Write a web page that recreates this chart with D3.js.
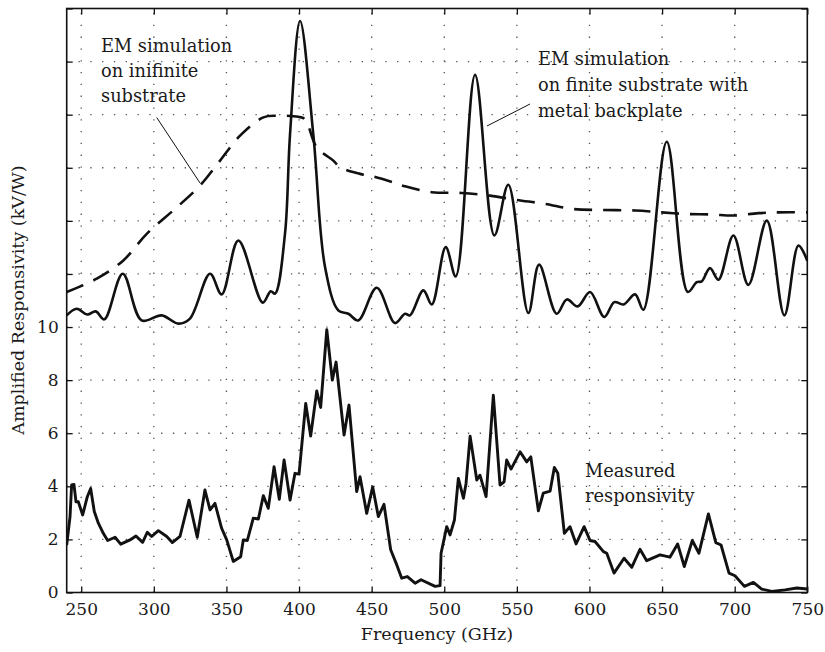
<!DOCTYPE html>
<html>
<head>
<meta charset="utf-8">
<script src="https://cdn.jsdelivr.net/npm/d3@7/dist/d3.min.js"></script>
<style>
  body { margin: 0; background: #fff; }
  text { font-family: "DejaVu Serif", "Liberation Serif", serif; fill: #1a1a1a; }
</style>
</head>
<body>
<svg id="chart" width="825" height="652"></svg>
<script>
// Frequency axis ticks (GHz) and responsivity ticks (kV/W)
const freqTicks = [250, 300, 350, 400, 450, 500, 550, 600, 650, 700, 750];
const respTicks = [0, 2, 4, 6, 8, 10, 12, 14, 16, 18, 20, 22];
const respLabels = [0, 2, 4, 6, 8, 10];

// EM simulation, infinite substrate: [GHz, kV/W] (plotted with offset)
const infiniteSubstrate = [
  [240, 11.32], [260.7, 11.82], [279, 12.51], [295.1, 13.51], [315.8, 14.51],
  [331.8, 15.33], [345.6, 16.27], [359.4, 17.21], [375.4, 17.9], [384.6, 17.96],
  [399.5, 17.92], [404.1, 17.83], [412.2, 16.77], [423.6, 16.27], [428.2, 16.02],
  [442, 15.77], [451.2, 15.67], [464.9, 15.45], [473, 15.3], [491.4, 15.08],
  [512, 15.05], [531.5, 14.95], [549.9, 14.79], [569.4, 14.64], [587.8, 14.45],
  [608.5, 14.41], [631.4, 14.39], [649.8, 14.32], [665.8, 14.26], [684.2, 14.24],
  [699.1, 14.2], [716.3, 14.29], [730.1, 14.32], [750, 14.32]
];

// EM simulation, finite substrate with metal backplate: [GHz, kV/W]
const finiteSubstrate = [
  [240, 10.44], [246.9, 10.69], [254.2, 10.47], [260, 10.59], [265.9, 10.29],
  [278.6, 12.01], [291.6, 10.25], [305.4, 10.44], [316.9, 10.13], [324.9, 10.32],
  [338.7, 12.01], [346.7, 11.23], [358.2, 13.26], [375, 10.92], [380.5, 11.35],
  [383.5, 11.26], [390.3, 13.5], [393.8, 17.27], [400.7, 21.53], [409.8, 17.27],
  [417.9, 12.26], [427, 10.63], [434, 10.5], [440.8, 10.25], [453.5, 11.48],
  [466.1, 10.15], [473, 10.5], [476.4, 10.44], [485.6, 11.38], [491.4, 10.85],
  [501, 13.01], [507.9, 11.91], [521.2, 19.5], [534.5, 13.45], [544.1, 15.36],
  [557.9, 10.53], [565.3, 12.35], [577.4, 10.5], [584.4, 11.04], [591.9, 10.78],
  [600.4, 11.32], [610.2, 10.38], [617.1, 10.94], [623.4, 10.85], [631.4, 11.23],
  [637.1, 10.65], [653.2, 16.98], [667.7, 11.32], [673.9, 11.69], [677.3, 11.72],
  [683, 12.22], [688.8, 11.78], [699.1, 13.45], [709.4, 11.59], [722.1, 14.01],
  [734.2, 10.44], [743.9, 13.07], [750, 12.5]
];

// Measured responsivity: [GHz, kV/W]
const measured = [
  [240, 1.79], [242.3, 2.86], [243.4, 4.05], [245, 4.07], [246.4, 3.42], [248, 3.42],
  [251, 2.92], [254.2, 3.61], [256.5, 3.92], [259, 3.05], [261.8, 2.61], [265.2, 2.23],
  [268.2, 1.96], [273.3, 2.08], [277.2, 1.82], [283.6, 1.98], [287.7, 2.13], [292.3, 1.89],
  [295.5, 2.27], [298.5, 2.11], [303.1, 2.33], [308.9, 2.11], [312.7, 1.88], [318, 2.11],
  [324.2, 3.48], [329.9, 2.08], [335.2, 3.86], [338.7, 3.11], [342.1, 3.36], [346.7, 2.42],
  [350.2, 1.98], [354.7, 1.17], [359.8, 1.35], [361.6, 1.98], [364.4, 1.96], [368.5, 2.8],
  [372, 2.77], [375.4, 3.65], [378.8, 3.17], [382.8, 4.74], [386.4, 3.51], [389.7, 4.99],
  [393.8, 3.48], [397.2, 4.49], [400, 4.46], [404.6, 7.12], [408, 5.89], [412.2, 7.59],
  [414.9, 6.97], [419.1, 9.9], [422.9, 8.0], [425.5, 8.68], [431, 5.93], [434.4, 7.06],
  [439.7, 3.8], [442, 4.36], [446.6, 2.98], [450.7, 3.98], [454.6, 2.86], [458.5, 3.32],
  [463.1, 1.61], [467.3, 1.04], [470.7, 0.54], [474.6, 0.6], [479.9, 0.35], [484, 0.48],
  [493.7, 0.23], [497.1, 0.26], [497.8, 1.48], [501.7, 2.48], [504, 2.17], [507, 2.73],
  [509.7, 4.3], [513.2, 3.55], [515, 4.11], [517.8, 5.89], [522.4, 4.24], [524.6, 4.42],
  [528.8, 3.61], [533.8, 7.43], [538.4, 4.05], [541.2, 4.17], [543, 4.99], [546, 4.65],
  [552.2, 5.3], [556.8, 4.92], [559.6, 5.11], [564.8, 3.08], [568.2, 3.74], [572.9, 3.82],
  [575.8, 4.71], [578.2, 4.49], [582.7, 2.23], [586.6, 2.48], [590.8, 1.83], [596.3, 2.48],
  [600.4, 1.96], [603.8, 1.92], [609.6, 1.54], [611.9, 1.48], [616.9, 0.73], [623.8, 1.29],
  [629.1, 0.95], [634.8, 1.63], [639.4, 1.2], [648.6, 1.42], [655.4, 1.33], [660.7, 1.83],
  [665.3, 0.98], [670.8, 1.96], [675.4, 1.48], [681.9, 2.96], [687, 1.88], [690.6, 1.79],
  [696.1, 0.73], [700.2, 0.63], [706.7, 0.23], [712.9, 0.38], [718.6, 0.13], [725.5, 0.04],
  [734.7, 0.1], [742.8, 0.17], [750, 0.13]
];

const svg = d3.select("#chart");
const plot = { left: 66.7, right: 807.3, top: 8.5, bottom: 592.5 };

const x = d3.scaleLinear().domain([240, 750]).range([plot.left, plot.right]);
const y = d3.scaleLinear().domain([0, 22]).range([plot.bottom, plot.top]);

// dotted grid
const grid = svg.append("g").attr("stroke", "#555").attr("stroke-width", 1.3)
  .attr("stroke-dasharray", "1.3,10.5");
grid.selectAll("line.v").data(freqTicks.filter(d => d < 750)).join("line")
  .attr("x1", d => x(d)).attr("x2", d => x(d))
  .attr("y1", plot.bottom).attr("y2", plot.top);
grid.selectAll("line.h").data(respTicks.filter(d => d > 0 && d < 22)).join("line")
  .attr("class", "h")
  .attr("x1", plot.left).attr("x2", plot.right)
  .attr("y1", d => y(d)).attr("y2", d => y(d));

// axes with inward ticks on all four sides
const tickLen = 6;
const bottomAxis = d3.axisBottom(x).tickValues(freqTicks).tickSizeInner(-tickLen).tickSizeOuter(0).tickPadding(10);
const topAxis = d3.axisTop(x).tickValues(freqTicks).tickSizeInner(-tickLen).tickSizeOuter(0).tickFormat("");
const leftAxis = d3.axisLeft(y).tickValues(respTicks).tickSizeInner(-tickLen).tickSizeOuter(0).tickPadding(8)
  .tickFormat(d => respLabels.includes(d) ? d : "");
const rightAxis = d3.axisRight(y).tickValues(respTicks).tickSizeInner(-tickLen).tickSizeOuter(0).tickFormat("");

function styleAxis(g) {
  g.select(".domain").remove();
  g.selectAll(".tick line").attr("stroke", "#111").attr("stroke-width", 1.3);
  g.selectAll(".tick text").attr("font-family", "DejaVu Serif").attr("font-size", 17).attr("fill", "#1a1a1a");
}
svg.append("g").attr("transform", `translate(0,${plot.bottom})`).call(bottomAxis).call(styleAxis);
svg.append("g").attr("transform", `translate(0,${plot.top})`).call(topAxis).call(styleAxis);
svg.append("g").attr("transform", `translate(${plot.left},0)`).call(leftAxis).call(styleAxis);
svg.append("g").attr("transform", `translate(${plot.right},0)`).call(rightAxis).call(styleAxis);

// curves
svg.append("clipPath").attr("id", "clip").append("rect")
  .attr("x", plot.left).attr("y", plot.top)
  .attr("width", plot.right - plot.left).attr("height", plot.bottom - plot.top);

const smooth = d3.line().x(d => x(d[0])).y(d => y(d[1])).curve(d3.curveCatmullRom.alpha(0.5));
const jagged = d3.line().x(d => x(d[0])).y(d => y(d[1])).curve(d3.curveLinear);

const curves = svg.append("g").attr("clip-path", "url(#clip)").attr("fill", "none");
curves.append("path").datum(infiniteSubstrate).attr("d", smooth)
  .attr("stroke", "#111").attr("stroke-width", 2.6).attr("stroke-dasharray", "18,11");
curves.append("path").datum(finiteSubstrate).attr("d", smooth)
  .attr("stroke", "#111").attr("stroke-width", 2.6).attr("stroke-linejoin", "round");
curves.append("path").datum(measured).attr("d", jagged)
  .attr("stroke", "#111").attr("stroke-width", 2.9).attr("stroke-linejoin", "round");

// frame
svg.append("rect").attr("x", plot.left).attr("y", plot.top)
  .attr("width", plot.right - plot.left).attr("height", plot.bottom - plot.top)
  .attr("fill", "none").attr("stroke", "#111").attr("stroke-width", 1.6);

// annotations
function multiline(lines, x0, y0, dy) {
  const t = svg.append("text").attr("font-size", 17.8);
  lines.forEach((s, i) => t.append("tspan").attr("x", x0).attr("y", y0 + i * dy).text(s));
}
multiline(["EM simulation", "on inifinite", "substrate"], 101, 52, 25);
svg.append("line").attr("x1", 156.7).attr("y1", 117.5).attr("x2", 200).attr("y2", 183)
  .attr("stroke", "#111").attr("stroke-width", 1);

multiline(["EM simulation", "on finite substrate with", "metal backplate"], 538, 65, 25.8);
svg.append("line").attr("x1", 530).attr("y1", 104).attr("x2", 487).attr("y2", 126)
  .attr("stroke", "#111").attr("stroke-width", 1);

multiline(["Measured", "responsivity"], 585, 477, 25);

// axis titles
svg.append("text").attr("x", (plot.left + plot.right) / 2).attr("y", 640)
  .attr("text-anchor", "middle").attr("font-size", 17.5).text("Frequency (GHz)");
svg.append("text").attr("transform", `translate(24,300) rotate(-90)`)
  .attr("text-anchor", "middle").attr("font-size", 17.5).text("Amplified Responsivity (kV/W)");
</script>
</body>
</html>
